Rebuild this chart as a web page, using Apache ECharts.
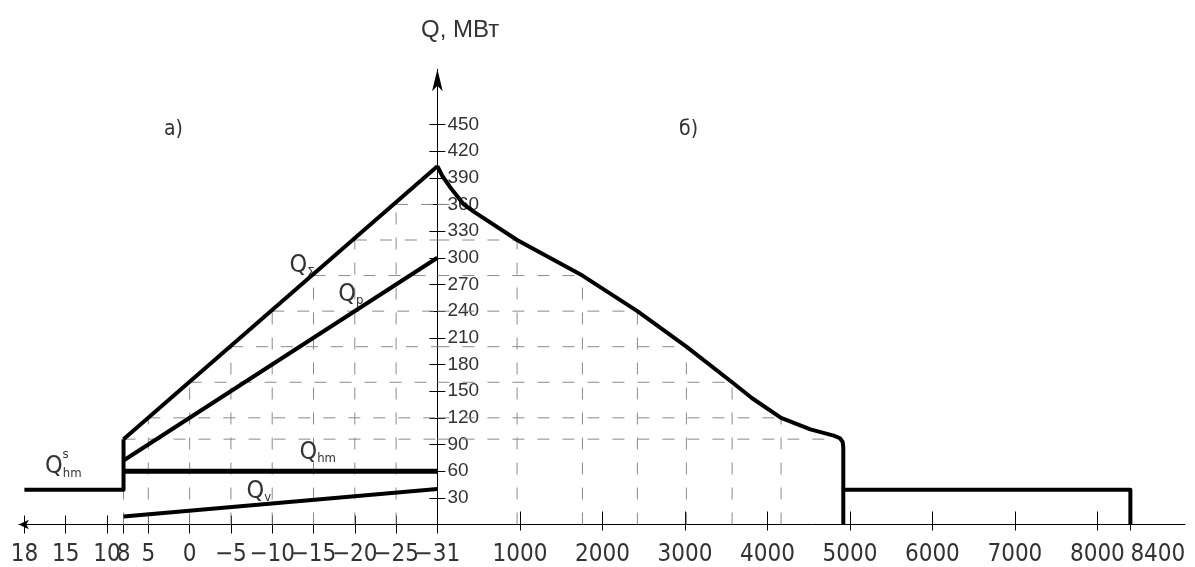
<!DOCTYPE html>
<html><head><meta charset="utf-8">
<script src="https://cdn.jsdelivr.net/npm/echarts@6/dist/echarts.min.js"></script>
<style>html,body{margin:0;padding:0;background:#fff}#c{width:1195px;height:567px}</style>
</head><body><div id="c"></div>
<script>
// ---------- tick labels ----------
const tempTicks = [18, 15, 10, 8, 5, 0, -5, -10, -15, -20, -25, -31];
const hourTicks = [1000, 2000, 3000, 4000, 5000, 6000, 7000, 8000, 8400];
const qTicks = [30, 60, 90, 120, 150, 180, 210, 240, 270, 300, 330, 360, 390, 420, 450];

// ---------- а) heat loads vs outdoor temperature ----------
const heatTemps = [8, -31];
const qTotal = [96, 403];      // Q_Σ
const qHeating = [72, 300];    // Q_p
const qHotWater = [60, 60];    // Q_hm
const qVent = [9, 40];         // Q_v
const summerTemps = [18, 8, 8];
const summerQ = [39, 39, 96];  // Q_hm^s then step up to Q_Σ

// construction (dashed) lines
const gridTemps = [8, 5, 0, -5, -10, -15, -20, -25];
const gridQ = [96, 120, 160, 200, 240, 280, 320, 360];
const gridHours = [4804, 4166, 3572, 3018, 2424, 1758, 966, 320];
const gridDrop = [false, true, true, true, true, true, true, false];

// ---------- б) load duration curve ----------
const durHours = [0, 60, 150, 320, 440, 966, 1758, 2424, 3018, 3572, 3815, 4166, 4521, 4804, 4880, 4912, 4920, 4920];
const durQ = [403, 392, 380, 360, 352, 320, 280, 240, 200, 160, 142, 120, 107, 100, 97, 93, 87, 0];
const summerHours = [4920, 8400, 8400];
const summerHoursQ = [39, 39, 0];

// ---------- styling ----------
const NARROW = '"Liberation Sans Narrow", "Arial Narrow", "DejaVu Sans Condensed", sans-serif';
const REG = '"Liberation Sans", Arial, sans-serif';
const INK = '#333';
const DASH = { color: '#8a8a8a', width: 1, type: [12, 13] };
const THICK = { color: '#000', width: 4, join: 'round', cap: 'butt' };

// the drawing stretches the temperature scale at its ends:
// 18 °C sits where 20 would be, −31 °C where −30 would be
const tPos = t => t > 15 ? 15 + (t - 15) * 5 / 3 : (t < -25 ? -25 + (t + 25) * 5 / 6 : t);
const tCold = tPos(Math.min(...tempTicks));
const zip = (xs, ys, fx) => xs.map((x, i) => [fx ? fx(x) : x, ys[i]]);
const HX = 5; // index of the hours axis that carries the series

function seg(xi, yi, data, style, z, extra) {
  return Object.assign({ type: 'line', xAxisIndex: xi, yAxisIndex: yi, data, symbol: 'none',
    silent: true, lineStyle: style, z: z }, extra || {});
}
const RICH = {
  q: { fontFamily: NARROW, fontSize: 25, color: INK, lineHeight: 26 },
  s: { fontFamily: NARROW, fontSize: 13, color: INK, verticalAlign: 'bottom', lineHeight: 18 }
};
function note(coord, text) {
  return { coord, value: 0, label: { show: true, position: 'right', distance: 0, formatter: text, rich: RICH,
    color: INK, fontFamily: NARROW, fontSize: 21 } };
}

const series = [];
gridTemps.forEach((t, i) => {
  const x = tPos(t), q = gridQ[i];
  series.push(seg(0, 0, [[x, 0], [x, q]], DASH, 1));
  series.push(seg(0, 0, [[x, q], [tCold, q]], DASH, 1));
  series.push(seg(HX, 1, [[0, q], [gridHours[i], q]], DASH, 1));
  if (gridDrop[i]) series.push(seg(HX, 1, [[gridHours[i], 0], [gridHours[i], q]], DASH, 1));
});

const MP = d => ({ symbol: 'rect', symbolSize: 0, silent: true, data: d });
series.push(seg(0, 0, zip(heatTemps, qTotal, tPos), THICK, 5, {
  markPoint: MP([note([-12.1, 291], '{q|Q}{s|Σ}'), note([3.1, 444], 'а)')]) }));
series.push(seg(0, 0, zip(heatTemps, qHeating, tPos), THICK, 5, {
  markPoint: MP([note([-18.0, 259], '{q|Q}{s|p}')]) }));
series.push(seg(0, 0, zip(heatTemps, qHotWater, tPos), Object.assign({}, THICK, { width: 5 }), 5, {
  markPoint: MP([note([-13.3, 81], '{q|Q}{s|hm}')]) }));
series.push(seg(0, 0, zip(heatTemps, qVent, tPos), THICK, 5, {
  markPoint: MP([note([-6.9, 37], '{q|Q}{s|v}')]) }));
series.push(seg(0, 0, zip(summerTemps, summerQ, tPos), THICK, 5, {
  markPoint: MP([note([17.5, 65], '{q|Q}{s|hm}'), note([15.4, 81], '{s|s}')]) }));
series.push(seg(HX, 1, zip(durHours, durQ), THICK, 5, {
  markPoint: MP([note([2930, 444], 'б)')]) }));
series.push(seg(HX, 1, zip(summerHours, summerHoursQ), THICK, 5));

const tempLabel = v => {
  const t = tempTicks.find(tt => Math.abs(tPos(tt) - Number(v)) < 1e-6);
  return t === undefined ? '' : String(t).replace('-', '−');
};
const lastHour = hourTicks[hourTicks.length - 1];
const xLabelBase = { fontFamily: NARROW, fontSize: 24, color: INK, margin: 18, interval: 0,
  showMinLabel: true, showMaxLabel: true, hideOverlap: false };

const Y_MAX = 512, T_MAX = 20.68, H_MAX = 9062;
const bare = { axisLine: { show: false, onZero: false }, axisTick: { show: false }, axisLabel: { show: false },
  splitLine: { show: false } };
const tempAxis = extra => Object.assign({ gridIndex: 0, type: 'value', inverse: true, min: tCold, max: T_MAX,
  position: 'bottom' }, bare, extra);
const hoursAxis = extra => Object.assign({ gridIndex: 1, type: 'value', min: 0, max: H_MAX,
  position: 'bottom' }, bare, extra);
// neighbouring temperature labels sit very close, so they are split over two label rows on one line
const tempLabelAxis = parity => tempAxis({
  axisLabel: Object.assign({ show: true, formatter: tempLabel,
    customValues: tempTicks.filter((t, i) => i % 2 === parity).map(tPos) }, xLabelBase) });

const option = {
  animation: false,
  backgroundColor: '#fff',
  title: { text: 'Q, МВт', left: 416, top: 13,
    textStyle: { fontFamily: REG, fontSize: 24, fontWeight: 'normal', color: INK } },
  grid: [
    { left: 18.8, right: 757.6, top: 69.3, bottom: 42.5 },
    { left: 437.4, right: 10, top: 69.3, bottom: 42.5 }
  ],
  xAxis: [
    tempAxis({
      axisLine: { show: true, onZero: false, symbol: ['arrow', 'none'], symbolSize: [7, 10], lineStyle: { color: '#000', width: 1 } },
      axisTick: { show: true, customValues: tempTicks.map(tPos), length: 9, lineStyle: { color: '#000' } } }),
    tempAxis({
      axisTick: { show: true, inside: true, customValues: tempTicks.map(tPos), length: 9, lineStyle: { color: '#000' } } }),
    tempLabelAxis(0),
    tempLabelAxis(1),
    hoursAxis({
      axisLabel: Object.assign({ show: true, customValues: [lastHour], formatter: v => String(Number(v)) },
        xLabelBase, { align: 'left' }) }),
    hoursAxis({
      axisLine: { show: true, onZero: false, lineStyle: { color: '#000', width: 1 } },
      axisTick: { show: true, customValues: hourTicks, length: 6, lineStyle: { color: '#000' } },
      axisLabel: Object.assign({ show: true, customValues: hourTicks.filter(h => h !== lastHour),
        formatter: v => String(Number(v)) }, xLabelBase) }),
    hoursAxis({
      axisTick: { show: true, inside: true, customValues: hourTicks, length: 13, lineStyle: { color: '#000' } } })
  ],
  yAxis: [
    { gridIndex: 0, type: 'value', min: 0, max: Y_MAX, position: 'right',
      axisLine: { show: false, onZero: false },
      axisTick: { show: true, customValues: qTicks, length: 8, lineStyle: { color: '#000' } },
      axisLabel: { show: true, customValues: qTicks, margin: 10, fontFamily: REG, fontSize: 19, color: INK },
      splitLine: { show: false } },
    { gridIndex: 1, type: 'value', min: 0, max: Y_MAX, position: 'left',
      axisLine: { show: true, onZero: false, symbol: ['none', 'arrow'], symbolSize: [8, 22], lineStyle: { color: '#000', width: 1 } },
      axisTick: { show: true, customValues: qTicks, length: 8, lineStyle: { color: '#000' } },
      axisLabel: { show: false }, splitLine: { show: false } }
  ],
  series: series
};
const chart = echarts.init(document.getElementById('c'), null, { renderer: 'canvas' });
chart.setOption(option);
</script>
</body></html>
